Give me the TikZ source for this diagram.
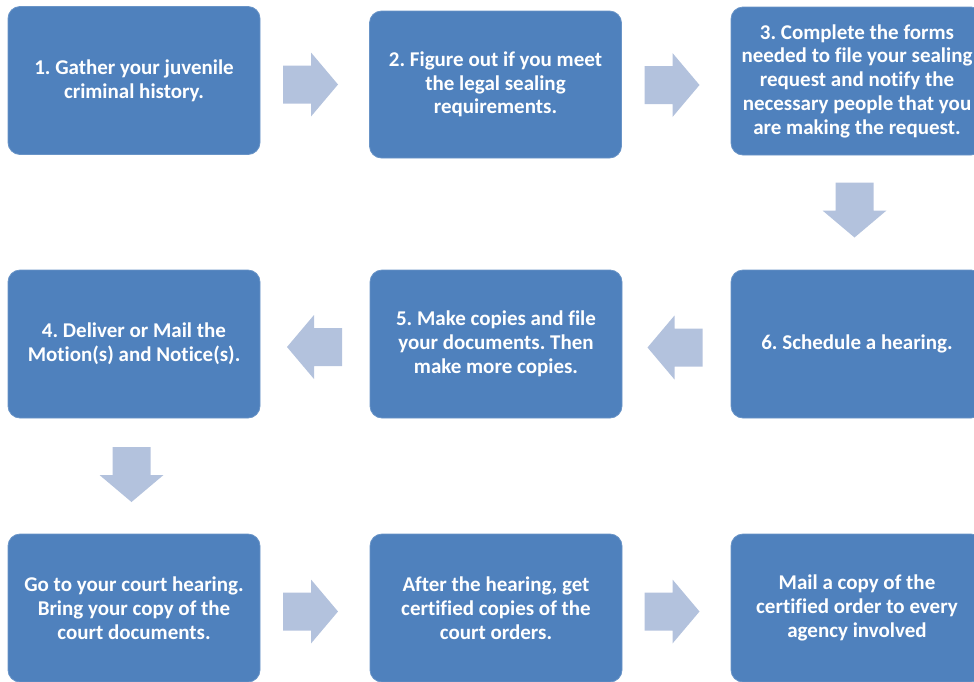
\documentclass[tikz,border=0pt]{standalone}
\usepackage{fontspec}
\setmainfont{Carlito}[Ligatures=CommonOff]
\definecolor{boxblue}{HTML}{4F81BD}
\definecolor{arrowblue}{HTML}{B3C2DD}
\tikzset{
  stepbox/.style={rectangle, rounded corners=12pt, fill=boxblue, draw=boxblue!85!white, line width=0.8pt,
    minimum width=252pt, minimum height=148pt, text=white, align=center,
    font=\fontsize{21pt}{23.75pt}\selectfont\bfseries\frenchspacing, inner sep=0pt},
  pics/blockarrow/.style={code={
    \fill[arrowblue] (-27.5,-19) -- (0.5,-19) -- (0.5,-32) -- (27.5,0) -- (0.5,32) -- (0.5,19) -- (-27.5,19) -- cycle;
  }}
}
\begin{document}
\begin{tikzpicture}[x=1pt,y=-1pt]
\useasboundingbox (0,0) rectangle (974,681);
\clip (0,0) rectangle (974,681);
\node[stepbox] (b1) at (134,80.5) {1. Gather your juvenile\\criminal history.};
\node[stepbox, minimum height=147pt] (b2) at (495.5,84.5) {2. Figure out if you meet\\the legal sealing\\requirements.};
\node[stepbox] (b3) at (857,81) {3. Complete the forms\\needed to file your sealing\\request and notify the\\necessary people that you\\are making the request.};
\node[stepbox] (b4) at (134,344) {4. Deliver or Mail the\\Motion(s) and Notice(s).};
\node[stepbox] (b5) at (496,344) {5. Make copies and file\\your documents. Then\\make more copies.};
\node[stepbox] (b6) at (857,344) {6. Schedule a hearing.};
\node[stepbox] (b7) at (134,608) {Go to your court hearing.\\Bring your copy of the\\court documents.};
\node[stepbox] (b8) at (496,608) {After the hearing, get\\certified copies of the\\court orders.};
\node[stepbox] (b9) at (857,608) {Mail a copy of the\\certified order to every\\agency involved};
\pic at (310.5,84.5) {blockarrow};
\pic at (672,85) {blockarrow};
\pic[rotate=-90] at (854.5,210) {blockarrow};
\pic[rotate=180] at (314.5,347) {blockarrow};
\pic[rotate=180] at (675,347.5) {blockarrow};
\pic[rotate=-90] at (131.5,474.5) {blockarrow};
\pic at (310.5,611.5) {blockarrow};
\pic at (672,611.5) {blockarrow};
\end{tikzpicture}
\end{document}
